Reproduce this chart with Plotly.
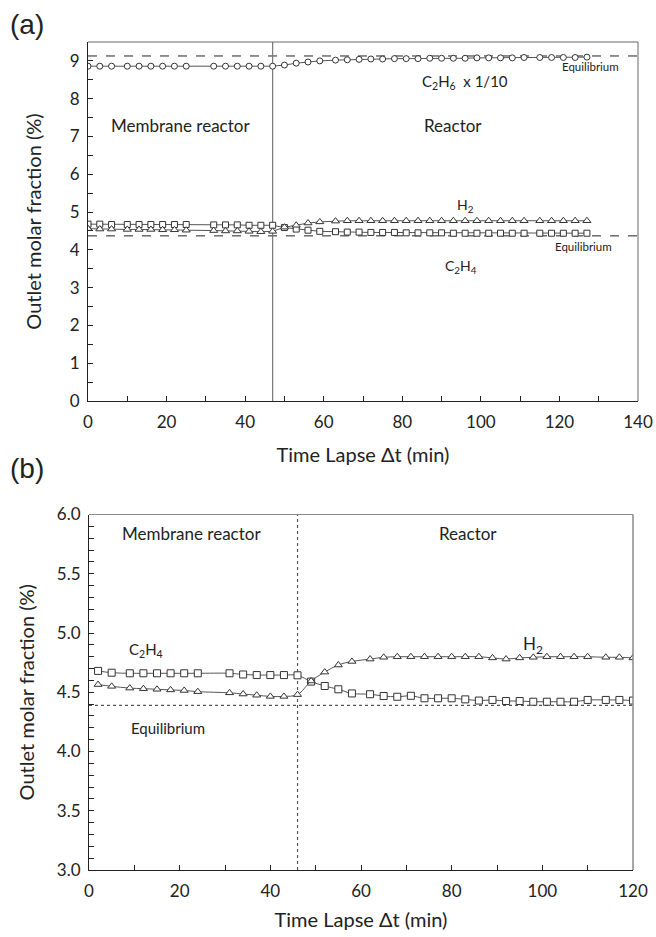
import plotly.graph_objects as go

# ---------------- Panel (a) data ----------------
t_a = [0, 3, 6, 10, 13, 16, 19, 22, 25, 32, 35, 38, 41, 44, 47, 50, 53, 56, 59, 63,
       66, 69, 72, 75, 78, 81, 84, 87, 90, 93, 96, 99, 102, 105, 108, 111, 115, 118,
       121, 124, 127]
c2h6_a = [8.86, 8.86, 8.86, 8.86, 8.86, 8.86, 8.86, 8.86, 8.86, 8.86, 8.86, 8.86,
          8.86, 8.86, 8.86, 8.89, 8.94, 8.97, 9.00, 9.02, 9.03, 9.04, 9.05, 9.05,
          9.06, 9.06, 9.06, 9.07, 9.07, 9.07, 9.07, 9.08, 9.08, 9.08, 9.08, 9.09,
          9.09, 9.09, 9.09, 9.09, 9.10]
h2_a = [4.56, 4.55, 4.55, 4.54, 4.54, 4.54, 4.53, 4.53, 4.52, 4.51, 4.50, 4.50,
        4.49, 4.48, 4.49, 4.60, 4.65, 4.71, 4.74, 4.76, 4.77, 4.77, 4.77, 4.77,
        4.77, 4.77, 4.77, 4.77, 4.77, 4.77, 4.77, 4.77, 4.77, 4.77, 4.77, 4.77,
        4.77, 4.77, 4.77, 4.77, 4.77]
c2h4_a = [4.68, 4.68, 4.67, 4.67, 4.67, 4.67, 4.67, 4.67, 4.67, 4.66, 4.66, 4.66,
          4.65, 4.65, 4.65, 4.59, 4.55, 4.52, 4.49, 4.48, 4.47, 4.47, 4.46, 4.46,
          4.46, 4.45, 4.45, 4.45, 4.45, 4.44, 4.44, 4.44, 4.44, 4.44, 4.44, 4.44,
          4.44, 4.44, 4.44, 4.44, 4.44]
eq_c2h6_a = 9.13
eq_c2h4_a = 4.37
switch_a = 47

# ---------------- Panel (b) data ----------------
t_b = [2, 5, 9, 12, 15, 18, 21, 24, 31, 34, 37, 40, 43, 46, 49, 52, 55, 58, 62, 65,
       68, 71, 74, 77, 80, 83, 86, 89, 92, 95, 98, 101, 104, 107, 110, 114, 117, 120]
c2h4_b = [4.68, 4.665, 4.66, 4.66, 4.66, 4.66, 4.66, 4.66, 4.66, 4.65, 4.645, 4.645,
          4.645, 4.643, 4.59, 4.553, 4.525, 4.49, 4.483, 4.468, 4.462, 4.47, 4.449,
          4.449, 4.449, 4.44, 4.43, 4.435, 4.426, 4.426, 4.42, 4.42, 4.42, 4.42,
          4.435, 4.435, 4.435, 4.43]
h2_b = [4.565, 4.55, 4.535, 4.53, 4.525, 4.52, 4.515, 4.505, 4.495, 4.485, 4.475,
        4.465, 4.465, 4.48, 4.595, 4.67, 4.73, 4.76, 4.78, 4.795, 4.80, 4.80, 4.80,
        4.80, 4.80, 4.80, 4.80, 4.79, 4.78, 4.79, 4.795, 4.80, 4.80, 4.80, 4.80,
        4.795, 4.795, 4.79]
eq_b = 4.39
switch_b = 46

FONT = "Lato"
MCOL = "#333333"
LCOL = "#555555"

# the page margin is removed by a small post script, so the figure fills the window
W, H = 656, 937
def PX(x):
    return x / W
def PY(y):
    return 1 - y / H

fig = go.Figure()

def series(x, y, sym, xa, ya, shape="linear", size=6):
    fig.add_trace(go.Scatter(
        x=x, y=y, mode="lines+markers", xaxis=xa, yaxis=ya,
        line=dict(color=LCOL, width=1, shape=shape),
        marker=dict(symbol=sym, size=size, color="white",
                    line=dict(color=MCOL, width=1)),
        showlegend=False, hoverinfo="skip"))

series(t_a, c2h6_a, "circle", "x", "y", size=6)
series(t_a, c2h4_a, "square", "x", "y", size=6)
series(t_a, h2_a, "triangle-up", "x", "y", size=7)
series(t_b, c2h4_b, "square", "x2", "y2", "spline", size=7)
series(t_b, h2_b, "triangle-up", "x2", "y2", "spline", size=7)

shapes = [
    dict(type="line", xref="x", yref="y", x0=0, x1=140, y0=eq_c2h6_a, y1=eq_c2h6_a,
         line=dict(color="#222222", width=1, dash="dash"), layer="below"),
    dict(type="line", xref="x", yref="y", x0=0, x1=140, y0=eq_c2h4_a, y1=eq_c2h4_a,
         line=dict(color="#222222", width=1, dash="dash"), layer="below"),
    dict(type="line", xref="x", yref="y", x0=switch_a, x1=switch_a, y0=0, y1=9.5,
         line=dict(color="#777777", width=1.2), layer="below"),
    dict(type="line", xref="x2", yref="y2", x0=0, x1=120, y0=eq_b, y1=eq_b,
         line=dict(color="#555555", width=1.2, dash="dot"), layer="below"),
    dict(type="line", xref="x2", yref="y2", x0=switch_b, x1=switch_b, y0=3, y1=6,
         line=dict(color="#555555", width=1.2, dash="dot"), layer="below"),
    # top/right frame lines
    dict(type="line", xref="x domain", yref="y domain", x0=0, x1=1, y0=1, y1=1,
         line=dict(color="#666666", width=1)),
    dict(type="line", xref="x domain", yref="y domain", x0=1, x1=1, y0=0, y1=1,
         line=dict(color="#666666", width=1)),
    dict(type="line", xref="x2 domain", yref="y2 domain", x0=0, x1=1, y0=1, y1=1,
         line=dict(color="#888888", width=1)),
    dict(type="line", xref="x2 domain", yref="y2 domain", x0=1, x1=1, y0=0, y1=1,
         line=dict(color="#888888", width=1.5)),
]

anns = []
for lab, py in (("(a)", 24), ("(b)", 468)):
    anns.append(dict(text=lab, x=PX(8), y=PY(py), xref="paper", yref="paper",
                     showarrow=False, xanchor="left", yanchor="middle",
                     font=dict(family="Liberation Sans", size=28, color="#222222")))

def ann(text, x, y, size, xref, yref, xanchor="center"):
    anns.append(dict(text=text, x=x, y=y, xref=xref, yref=yref, showarrow=False,
                     xanchor=xanchor, yanchor="middle",
                     font=dict(family=FONT, size=size, color="#222222")))

ann("Membrane reactor", 23.5, 7.3, 17, "x", "y")
ann("Reactor", 93, 7.3, 17, "x", "y")
ann("C<sub>2</sub>H<sub>6</sub>  x 1/10", 96, 8.45, 15, "x", "y")
ann("Equilibrium", 128, 8.85, 11.5, "x", "y")
ann("H<sub>2</sub>", 96, 5.18, 14, "x", "y")
ann("Equilibrium", 126, 4.1, 11.5, "x", "y")
ann("C<sub>2</sub>H<sub>4</sub>", 95, 3.55, 14, "x", "y")

ann("Membrane reactor", 22.5, 5.84, 17, "x2", "y2")
ann("Reactor", 83.5, 5.84, 17, "x2", "y2")
ann("C<sub>2</sub>H<sub>4</sub>", 12.5, 4.86, 15, "x2", "y2")
ann("H<sub>2</sub>", 98, 4.90, 17, "x2", "y2")
ann("Equilibrium", 17.5, 4.2, 15, "x2", "y2")

axis_common = dict(showline=True, linecolor="#222222", linewidth=1, mirror=False,
                   ticks="inside", ticklen=5, tickcolor="#222222",
                   showgrid=False, zeroline=False, automargin=False,
                   tickfont=dict(family=FONT, size=17, color="#222222"))
title_font = dict(family=FONT, size=20, color="#222222")
minor_common = dict(ticks="inside", ticklen=5, tickcolor="#222222")

fig.update_layout(
    width=W, height=H, margin=dict(l=0, r=0, t=0, b=0),
    paper_bgcolor="white", plot_bgcolor="white",
    shapes=shapes, annotations=anns,
    xaxis=dict(domain=[PX(88), PX(638)], range=[0, 140], dtick=20,
               minor=dict(dtick=10, **minor_common), anchor="y",
               ticklabelstandoff=6,
               title=dict(text="Time Lapse Δt (min)", standoff=16, font=title_font),
               **axis_common),
    yaxis=dict(domain=[PY(401), PY(42)], range=[0, 9.5], dtick=1,
               minor=dict(dtick=0.5, **minor_common), anchor="x",
               ticklabelstandoff=4,
               title=dict(text="Outlet molar fraction (%)", standoff=22, font=title_font),
               **axis_common),
    xaxis2=dict(domain=[PX(89), PX(633)], range=[0, 120], dtick=20,
                minor=dict(dtick=10, **minor_common), anchor="y2",
                ticklabelstandoff=6,
                title=dict(text="Time Lapse Δt (min)", standoff=12, font=title_font),
                **axis_common),
    yaxis2=dict(domain=[PY(870), PY(514.5)], range=[3, 6], dtick=0.5,
                tickformat=".1f", minor=dict(dtick=0.1, **minor_common), anchor="x2",
                ticklabelstandoff=4,
                title=dict(text="Outlet molar fraction (%)", standoff=16, font=title_font),
                **axis_common),
)

fig.write_html(
    "out.html",
    config={"displayModeBar": False},
    post_script="document.body.style.margin='0px';document.body.style.overflow='hidden';",
)
